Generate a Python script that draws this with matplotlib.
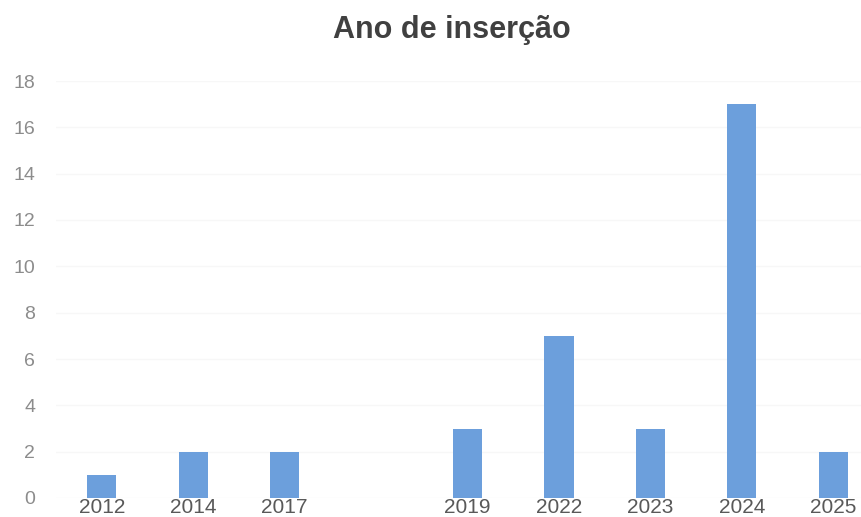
import matplotlib.pyplot as plt

years = ["2012", "2014", "2017", "", "2019", "2022", "2023", "2024", "2025"]
counts = [1, 2, 2, 0, 3, 7, 3, 17, 2]

W, H = 861, 517
fig = plt.figure(figsize=(W / 100, H / 100), dpi=100)
plt.rcParams["font.family"] = ["Liberation Sans", "DejaVu Sans"]

# plot area runs past the right edge, as in the cropped original
ax = fig.add_axes([56 / W, (H - 498) / H, 823 / W, 417 / H])

x = range(len(years))
ax.bar(x, counts, width=0.32, color="#6c9fdc", zorder=3)

ax.set_xlim(-0.5, len(years) - 0.5)
ax.set_ylim(0, 18)
ax.set_yticks(range(0, 19, 2))
ax.set_xticks(list(x))
ax.set_xticklabels(years)

ax.grid(axis="y", color="#f7f7f7", linewidth=1, zorder=0)
for s in ax.spines.values():
    s.set_visible(False)
ax.tick_params(axis="x", length=0, pad=0, labelsize=15, labelcolor="#595959")
ax.tick_params(axis="y", length=0, pad=15, labelsize=14, labelcolor="#8c8c8c")

fig.text(452 / W, (H - 30) / H, "Ano de inserção", ha="center", va="center",
         fontsize=22, fontweight="bold", color="#404040")

fig.savefig("out.png", dpi=100)
